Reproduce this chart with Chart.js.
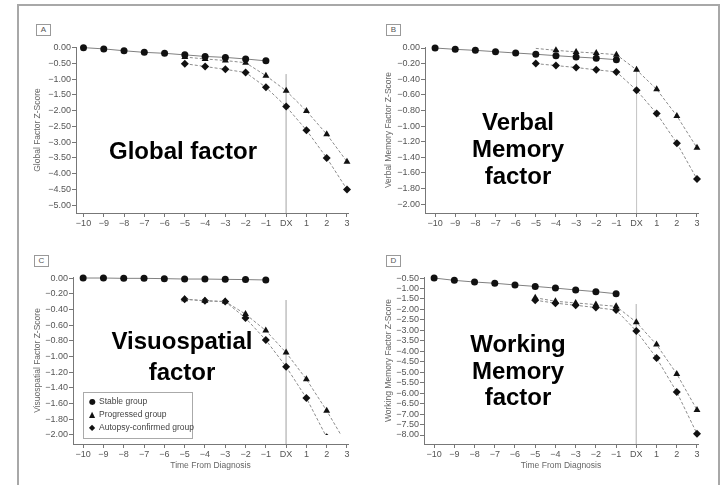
<!DOCTYPE html>
<html>
<head>
<meta charset="utf-8">
<script src="https://cdn.jsdelivr.net/npm/chart.js@4/dist/chart.umd.min.js"></script>
<style>
  html, body { margin: 0; padding: 0; background: #fff; }
  body { width: 722px; height: 485px; position: relative; overflow: hidden; font-family: 'Liberation Sans', Arial, sans-serif; }
  .frame { position: absolute; left: 17px; top: 4px; width: 699px; height: 500px; border: 2px solid #a8a8a8; }
  canvas { position: absolute; }
  .tag { position: absolute; width: 13px; height: 10px; border: 1px solid #999; font-size: 8px; line-height: 10px; text-align: center; color: #555; }
  .big { position: absolute; font-weight: bold; font-size: 24px; color: #000; text-align: center; white-space: nowrap; transform: translateX(-50%); }
  .legend { position: absolute; left: 83px; top: 392px; width: 108px; height: 43px; border: 1px solid #aaa; padding-top: 2px; font-size: 8.5px; color: #444; }
  .legend div { height: 13px; line-height: 13px; padding-left: 5px; white-space: nowrap; }
  .legend span { display: inline-block; width: 10px; font-family: 'DejaVu Sans', sans-serif; font-size: 8px; color: #111; }
</style>
</head>
<body>
<div class="frame"></div>

<canvas id="chartA" width="330" height="200" style="left:25px;top:40px"></canvas>
<canvas id="chartB" width="330" height="200" style="left:376px;top:40px"></canvas>
<canvas id="chartC" width="330" height="210" style="left:25px;top:270px"></canvas>
<canvas id="chartD" width="330" height="210" style="left:376px;top:270px"></canvas>

<div class="tag" style="left:36px;top:24px">A</div>
<div class="tag" style="left:386px;top:24px">B</div>
<div class="tag" style="left:34px;top:255px">C</div>
<div class="tag" style="left:386px;top:255px">D</div>

<div class="big" style="left:183px;top:137px;line-height:27px">Global factor</div>
<div class="big" style="left:518px;top:108px;line-height:27px">Verbal<br>Memory<br>factor</div>
<div class="big" style="left:182px;top:325px;line-height:31px">Visuospatial<br>factor</div>
<div class="big" style="left:518px;top:331px;line-height:26.5px">Working<br>Memory<br>factor</div>

<div class="legend" id="legend"></div>

<script>
// ===== DADOS =====

const xTickValues = [-10, -9, -8, -7, -6, -5, -4, -3, -2, -1, 0, 1, 2, 3];
const xTickLabels = ['−10', '−9', '−8', '−7', '−6', '−5', '−4', '−3', '−2', '−1', 'DX', '1', '2', '3'];
const stableX = [-10, -9, -8, -7, -6, -5, -4, -3, -2, -1];
const groupX = [-5, -4, -3, -2, -1, 0, 1, 2, 3];

const seriesNames = ['Stable group', 'Progressed group', 'Autopsy-confirmed group'];
const seriesSymbols = ['●', '▲', '◆'];

// A - Global
const globalStable = [0, -0.04, -0.10, -0.15, -0.18, -0.23, -0.28, -0.31, -0.36, -0.42];
const globalProgressed = [-0.30, -0.36, -0.41, -0.48, -0.89, -1.37, -2.01, -2.75, -3.62];
const globalAutopsy = [-0.51, -0.60, -0.69, -0.79, -1.26, -1.87, -2.62, -3.50, -4.50];
const globalTicks = [0, -0.5, -1, -1.5, -2, -2.5, -3, -3.5, -4, -4.5, -5];

// B - Verbal memory
const verbalStable = [0, -0.017, -0.03, -0.047, -0.064, -0.08, -0.098, -0.115, -0.13, -0.15];
const verbalProgressed = [-0.005, -0.03, -0.05, -0.065, -0.085, -0.28, -0.53, -0.87, -1.28];
const verbalAutopsy = [-0.20, -0.225, -0.25, -0.28, -0.306, -0.54, -0.84, -1.22, -1.68];
const verbalTicks = [0, -0.2, -0.4, -0.6, -0.8, -1, -1.2, -1.4, -1.6, -1.8, -2];

// C - Visuospatial
const visStable = [0, 0, -0.004, -0.004, -0.008, -0.013, -0.013, -0.017, -0.02, -0.025];
const visProgressed = [-0.27, -0.29, -0.30, -0.46, -0.67, -0.95, -1.29, -1.69, -2.13];
const visAutopsy = [-0.27, -0.29, -0.30, -0.51, -0.79, -1.13, -1.53, -2.03, -2.60];
const visTicks = [0, -0.2, -0.4, -0.6, -0.8, -1, -1.2, -1.4, -1.6, -1.8, -2];

// D - Working memory
const wmStable = [-0.5, -0.61, -0.69, -0.75, -0.83, -0.90, -0.98, -1.07, -1.15, -1.25];
const wmProgressed = [-1.44, -1.61, -1.69, -1.77, -1.85, -2.61, -3.68, -5.08, -6.80];
const wmAutopsy = [-1.56, -1.70, -1.80, -1.91, -2.03, -3.03, -4.32, -5.95, -7.94];
const wmTicks = [-0.5, -1, -1.5, -2, -2.5, -3, -3.5, -4, -4.5, -5, -5.5, -6, -6.5, -7, -7.5, -8];

// topo da linha vertical do diagnóstico (DX) em cada painel
const dxLineTop = [-0.84, -0.24, -0.28, -1.74];

// ===== CONFIGURAÇÃO =====

Chart.defaults.font.family = "'Liberation Sans', Arial, sans-serif";
Chart.defaults.color = '#555';

const fmt = v => (v < 0 ? '−' : '') + Math.abs(v).toFixed(2);
const pts = (xs, ys) => xs.map((x, i) => ({ x: x, y: ys[i] }));

const panels = [
    { id: 'chartA', yWidth: 51, padRight: 7, xMin: -10.37, yMin: -5.25, yMax: 0.02, ticks: globalTicks,
      yTitle: 'Global Factor Z-Score', xTitle: false, stable: globalStable, prog: globalProgressed, aut: globalAutopsy, dx: dxLineTop[0] },
    { id: 'chartB', yWidth: 49, padRight: 8, xMin: -10.5, yMin: -2.115, yMax: 0.013, ticks: verbalTicks,
      yTitle: 'Verbal Memory Factor Z-Score', xTitle: false, stable: verbalStable, prog: verbalProgressed, aut: verbalAutopsy, dx: dxLineTop[1], hideFirstProg: true },
    { id: 'chartC', yWidth: 48, padRight: 7, xMin: -10.5, yMin: -2.115, yMax: 0.013, ticks: visTicks,
      yTitle: 'Visuospatial Factor Z-Score', xTitle: true, stable: visStable, prog: visProgressed, aut: visAutopsy, dx: dxLineTop[2], clipBottom: -9 },
    { id: 'chartD', yWidth: 48, padRight: 8, xMin: -10.5, yMin: -8.43, yMax: -0.45, ticks: wmTicks,
      yTitle: 'Working Memory Factor Z-Score', xTitle: true, stable: wmStable, prog: wmProgressed, aut: wmAutopsy, dx: dxLineTop[3] }
];

const makeChart = (p) => {
    // no painel C as curvas são cortadas no nível -2.00
    const groupClip = p.clipBottom ? { left: false, top: false, right: false, bottom: p.clipBottom } : 8;
    const datasets = [
        { label: seriesNames[0], data: pts(stableX, p.stable), borderColor: '#808080', borderWidth: 1, clip: 8,
          pointStyle: 'circle', pointRadius: 3.5, pointBackgroundColor: '#111', pointBorderColor: '#111', pointBorderWidth: 0, order: 1 },
        { label: seriesNames[1], data: pts(groupX, p.prog), borderColor: '#8c8c8c', borderWidth: 1, borderDash: [3, 2],
          pointStyle: 'triangle', pointRadius: p.hideFirstProg ? (c => c.dataIndex === 0 ? 0 : 4) : 4,
          pointBackgroundColor: '#111', pointBorderColor: '#111', pointBorderWidth: 0, order: 2, clip: groupClip },
        { label: seriesNames[2], data: pts(groupX, p.aut), borderColor: '#8c8c8c', borderWidth: 1, borderDash: [3, 2],
          pointStyle: 'rectRot', pointRadius: 4, pointBackgroundColor: '#111', pointBorderColor: '#111', pointBorderWidth: 0, order: 3, clip: groupClip },
        { label: 'DX', data: [{ x: 0, y: p.dx }, { x: 0, y: p.yMin }], borderColor: '#c8c8c8', borderWidth: 1, pointRadius: 0, order: 10 }
    ];

    return new Chart(document.getElementById(p.id), {
        type: 'line',
        data: { datasets: datasets },
        options: {
            responsive: false,
            animation: false,
            events: [],
            layout: { padding: { top: 7, right: p.padRight, left: 0, bottom: 0 } },
            plugins: { legend: { display: false }, tooltip: { enabled: false } },
            scales: {
                x: {
                    type: 'linear', min: p.xMin, max: 3.05,
                    afterBuildTicks: s => { s.ticks = xTickValues.map(v => ({ value: v })); },
                    afterFit: s => { s.height = p.xTitle ? 36 : 27; },
                    ticks: { font: { size: 9 }, color: '#555', padding: 1, maxRotation: 0, autoSkip: false,
                             callback: (v, i) => xTickLabels[i] },
                    grid: { drawOnChartArea: false, drawTicks: true, tickLength: 4, color: '#777' },
                    border: { display: true, color: '#777', width: 1 },
                    title: { display: p.xTitle, text: 'Time From Diagnosis', font: { size: 8.5 }, color: '#666', padding: { top: 0, bottom: 9 } }
                },
                y: {
                    type: 'linear', min: p.yMin, max: p.yMax,
                    afterBuildTicks: s => { s.ticks = p.ticks.map(v => ({ value: v })); },
                    afterFit: s => { s.width = p.yWidth; },
                    ticks: { font: { size: 9 }, color: '#555', padding: 1, autoSkip: false, callback: v => fmt(v) },
                    grid: { drawOnChartArea: false, drawTicks: true, tickLength: 4, color: '#777' },
                    border: { display: true, color: '#777', width: 1 },
                    title: { display: true, text: p.yTitle, font: { size: 8.5 }, color: '#666', padding: { top: 8, bottom: 0 } }
                }
            }
        }
    });
};

panels.forEach(makeChart);

// legenda do painel C
document.getElementById('legend').innerHTML = seriesNames
    .map((name, i) => `<div><span>${seriesSymbols[i]}</span>${name}</div>`)
    .join('');
</script>
</body>
</html>
